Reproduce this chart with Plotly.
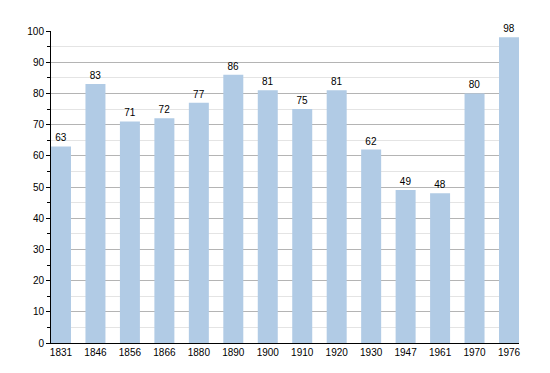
import plotly.graph_objects as go

years = ["1831", "1846", "1856", "1866", "1880", "1890", "1900", "1910", "1920", "1930", "1947", "1961", "1970", "1976"]
population = [63, 83, 71, 72, 77, 86, 81, 75, 81, 62, 49, 48, 80, 98]

fig = go.Figure(go.Bar(
    x=years, y=population,
    marker=dict(color="#b1cbe5", line=dict(width=0)),
    text=[str(v) for v in population], textposition="outside",
    textfont=dict(family="Liberation Sans, Arial", size=10, color="black"),
    cliponaxis=False, width=0.58,
))
fig.update_layout(
    width=550, height=373,
    margin=dict(l=43, r=39, t=23, b=38),
    plot_bgcolor="white", paper_bgcolor="white",
    font=dict(family="Liberation Sans, Arial", size=10, color="black"),
    showlegend=False,
)
fig.update_xaxes(
    type="category", range=[-0.29, 13.29],
    showline=True, linecolor="black", linewidth=1,
    ticks="", showgrid=False, tickfont=dict(size=10),
)
fig.update_yaxes(
    range=[0, 100], dtick=10,
    showline=True, linecolor="black", linewidth=1,
    ticks="outside", ticklen=4, tickcolor="black",
    showgrid=True, gridcolor="#b4b4b4", gridwidth=1,
    minor=dict(dtick=5, showgrid=True, gridcolor="#e4e4e4", ticks="outside", ticklen=3, tickcolor="black"),
    zeroline=False, tickfont=dict(size=10),
)
fig.write_html("out.html")
